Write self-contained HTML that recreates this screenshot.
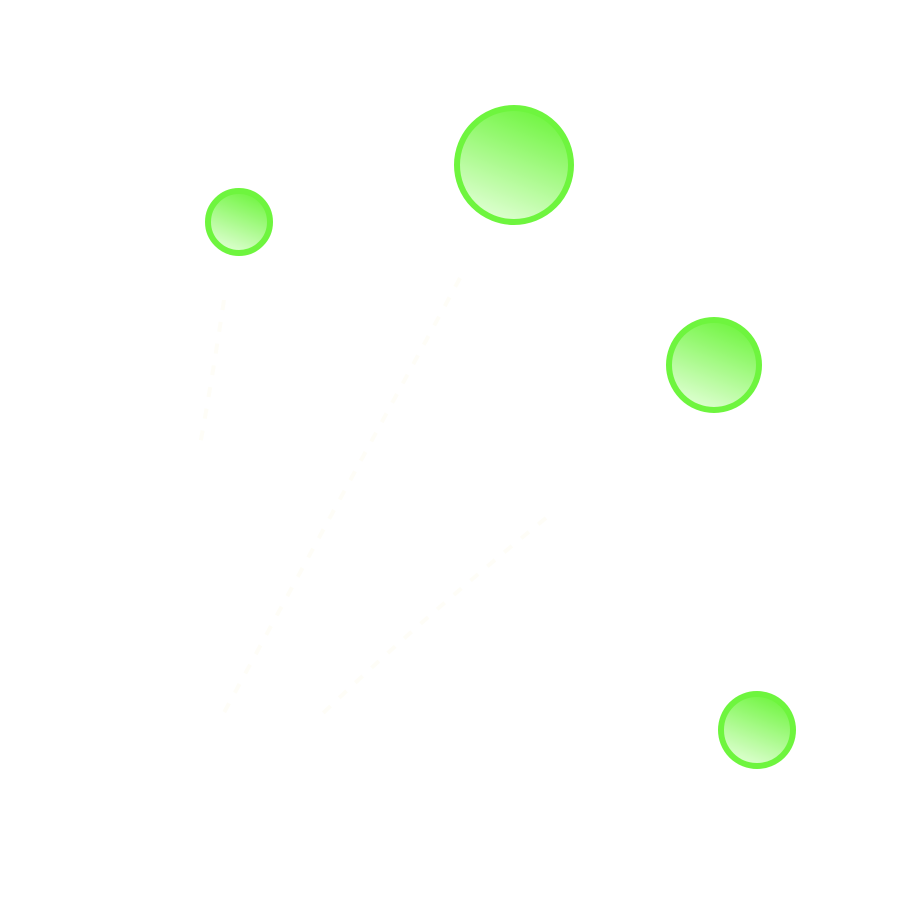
<!DOCTYPE html>
<html><head><style>html,body{margin:0;padding:0;background:#fff;width:900px;height:900px;overflow:hidden}</style></head>
<body>
<svg width="900" height="900" viewBox="0 0 900 900" xmlns="http://www.w3.org/2000/svg">
<defs>
<linearGradient id="g" x1="0.7" y1="0" x2="0.3" y2="1">
<stop offset="0" stop-color="#6ef53e"/>
<stop offset="1" stop-color="#e2ffd6"/>
</linearGradient>
</defs>
<g stroke="#fefdf7" stroke-width="4" stroke-dasharray="10 12" fill="none">
<path d="M460 278 L220 720"/>
<path d="M224 300 Q212 380 200 445"/>
<path d="M546 518 Q420 620 318 718"/>
</g>
<g fill="url(#g)" stroke="#6ef53e" stroke-width="6">
<circle cx="514" cy="165" r="57"/>
<circle cx="239" cy="222" r="31"/>
<circle cx="714" cy="365" r="45"/>
<circle cx="757" cy="730" r="36"/>
</g>
</svg>
</body></html>
